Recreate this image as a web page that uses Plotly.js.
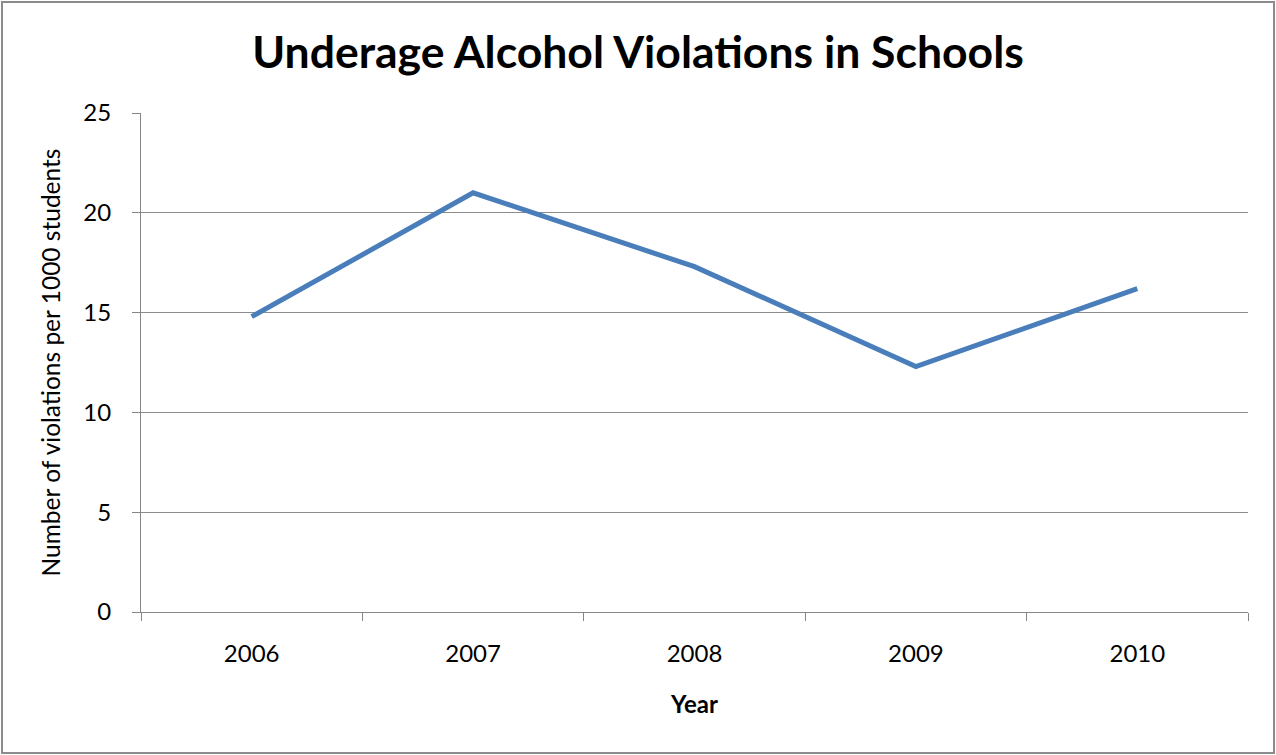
<!DOCTYPE html>
<html>
<head>
<meta charset="utf-8">
<script src="https://cdn.plot.ly/plotly-3.0.1.min.js"></script>
<style>
  html, body { margin: 0; padding: 0; background: #fff; }
  #chart { position: absolute; left: 0; top: 0; width: 1276px; height: 755px; }
  #frame { position: absolute; left: 1px; top: 1px; width: 1270px; height: 749px; border: 2px solid #8c8c8c; pointer-events: none; }
</style>
</head>
<body>
<div id="chart"></div>
<div id="frame"></div>
<script>
const years = ["2006", "2007", "2008", "2009", "2010"];
const violations = [14.8, 21.0, 17.3, 12.3, 16.2];
const yTicks = [0, 5, 10, 15, 20, 25];

const trace = {
  x: years,
  y: violations,
  type: "scatter",
  mode: "lines",
  line: { color: "#4a7ebb", width: 5 },
  hoverinfo: "x+y"
};

const layout = {
  width: 1276,
  height: 755,
  paper_bgcolor: "#ffffff",
  plot_bgcolor: "#ffffff",
  margin: { l: 141, r: 28, t: 113, b: 143 },
  font: { family: "Lato, 'Open Sans', sans-serif", color: "#000000", size: 24 },
  showlegend: false,
  title: {
    text: "<b>Underage Alcohol Violations in Schools</b>",
    font: { family: "Lato, 'Open Sans', sans-serif", size: 44.5, color: "#000000" },
    x: 0.5, xanchor: "center",
    y: 1 - 52 / 755, yref: "container", yanchor: "middle"
  },
  xaxis: {
    type: "category",
    categoryarray: years,
    range: [-0.5, 4.5],
    tickson: "boundaries",
    ticks: "outside",
    ticklen: 8,
    tickwidth: 1,
    tickcolor: "#868686",
    showgrid: false,
    showline: true,
    linecolor: "#868686",
    linewidth: 1,
    zeroline: false,
    tickfont: { size: 24, color: "#000000" },
    ticklabelstandoff: 20,
    title: { text: "<b>Year</b>", font: { size: 24, color: "#000000" }, standoff: 30 },
    fixedrange: true
  },
  yaxis: {
    range: [0, 25],
    tickvals: yTicks,
    ticktext: yTicks.map(String),
    ticks: "outside",
    ticklen: 8,
    tickwidth: 1,
    tickcolor: "#868686",
    showgrid: true,
    gridcolor: "#8c8c8c",
    gridwidth: 1,
    showline: true,
    linecolor: "#868686",
    linewidth: 1,
    zeroline: false,
    tickfont: { size: 24, color: "#000000" },
    ticklabelstandoff: 16,
    title: { text: "Number of violations per 1000 students", font: { size: 24.5, color: "#000000" }, standoff: 15 },
    fixedrange: true
  }
};

Plotly.newPlot("chart", [trace], layout, { displayModeBar: false, staticPlot: true });
</script>
</body>
</html>
